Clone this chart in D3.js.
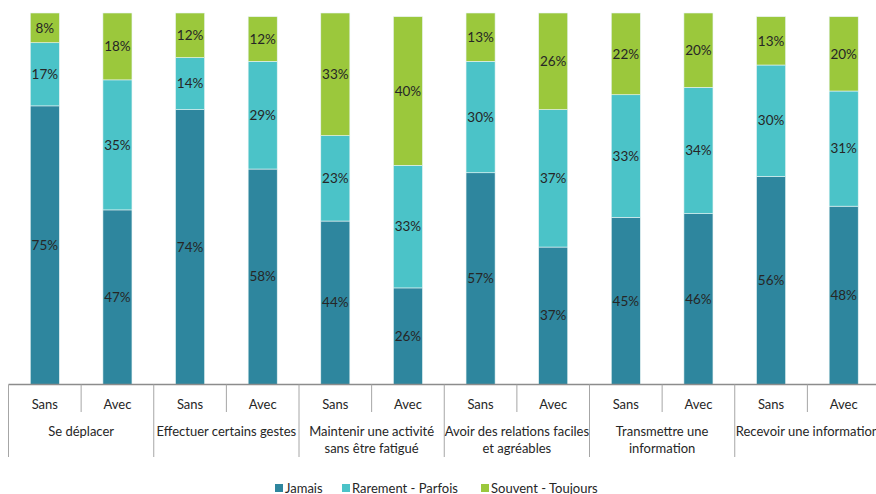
<!DOCTYPE html>
<html>
<head>
<meta charset="utf-8">
<script src="https://cdn.jsdelivr.net/npm/d3@7"></script>
<style>
  body { margin: 0; background: #fff; }
  text { font-family: Lato, "Open Sans", sans-serif; fill: #262626; }
</style>
</head>
<body>
<svg></svg>
<script>
// données
let groupes = ['Se déplacer', 'Effectuer certains gestes', 'Maintenir une activité|sans être fatigué',
    'Avoir des relations faciles|et agréables', 'Transmettre une|information', 'Recevoir une information']
let modalites = ['Sans', 'Avec']
let series = ['Jamais', 'Rarement - Parfois', 'Souvent - Toujours']
let couleurs = ['#2E869E', '#4BC3C8', '#9BC83C']

let jamais = [75, 47, 74, 58, 44, 26, 57, 37, 45, 46, 56, 48]
let rarement = [17, 35, 14, 29, 23, 33, 30, 37, 33, 34, 30, 31]
let souvent = [8, 18, 12, 12, 33, 40, 13, 26, 22, 20, 13, 20]

// canevas
let width = 876
let height = 494
let left = 8.5
let right = 880
let base = 384.5
let svg = d3.select('svg').attr('width', width).attr('height', height)

let barres = []
groupes.forEach((g, i) => {
    modalites.forEach((m, j) => { barres.push({ id: i * 2 + j, g: g, m: m }) })
})
let lignes = [jamais, rarement, souvent]
let table = barres.map((b, k) => {
    let o = { id: b.id }
    series.forEach((s, si) => { o[s] = lignes[si][k] })
    return o
})
let stack = d3.stack().keys(series)(table)

let xScale = d3.scaleBand().domain(barres.map(b => b.id)).range([left, right]).paddingInner(0.6).paddingOuter(0.3)
let step = xScale.step()
let yScale = d3.scaleLinear().domain([0, 100]).range([base, 13])

// barres
let couches = svg.append('g').selectAll('g').data(stack).enter().append('g')
    .attr('fill', (d, i) => couleurs[i])
couches.selectAll('rect').data(d => d).enter().append('rect')
    .attr('x', d => xScale(d.data.id))
    .attr('width', xScale.bandwidth())
    .attr('y', d => yScale(d[1]))
    .attr('height', d => yScale(d[0]) - yScale(d[1]))
    .attr('stroke', '#e8f4f4')
    .attr('stroke-width', 0.6)

// étiquettes
couches.selectAll('text').data(d => d).enter().append('text')
    .attr('x', d => xScale(d.data.id) + xScale.bandwidth() / 2)
    .attr('y', d => (yScale(d[0]) + yScale(d[1])) / 2)
    .attr('dy', '0.35em')
    .attr('text-anchor', 'middle')
    .attr('font-size', 13.5)
    .text(d => (d[1] - d[0]) + '%')

// axe
let axe = svg.append('g').attr('stroke', '#a6a6a6').attr('stroke-width', 1)
axe.append('line').attr('x1', left).attr('x2', right).attr('y1', base).attr('y2', base).attr('stroke', '#8c8c8c').attr('stroke-width', 1.5)
for (let k = 0; k <= barres.length; k++) {
    let x = left + k * step
    axe.append('line').attr('x1', x).attr('x2', x).attr('y1', base)
        .attr('y2', k % 2 === 0 ? 457 : 412)
}
svg.append('g').selectAll('text').data(barres).enter().append('text')
    .attr('x', d => xScale(d.id) + xScale.bandwidth() / 2)
    .attr('y', 404)
    .attr('dy', '0.35em')
    .attr('text-anchor', 'middle')
    .attr('font-size', 13)
    .text(d => d.m)
let gl = svg.append('g').selectAll('text').data(groupes).enter().append('text')
    .attr('x', (d, i) => left + (i * 2 + 1) * step)
    .attr('y', 431)
    .attr('text-anchor', 'middle')
    .attr('font-size', 13)
gl.selectAll('tspan').data(d => d.split('|')).enter().append('tspan')
    .attr('x', function () { return d3.select(this.parentNode).attr('x') })
    .attr('dy', (d, i) => i === 0 ? '0.35em' : '17px')
    .text(d => d)

// légende
let legX = [275, 342, 481]
let leg = svg.append('g').selectAll('g').data(series).enter().append('g')
    .attr('transform', (d, i) => 'translate(' + legX[i] + ',488)')
leg.append('rect').attr('x', 0).attr('y', -4).attr('width', 8).attr('height', 8).attr('fill', (d, i) => couleurs[i])
leg.append('text').attr('x', 10).attr('dy', '0.35em').attr('font-size', 13).text(d => d)
</script>
</body>
</html>
